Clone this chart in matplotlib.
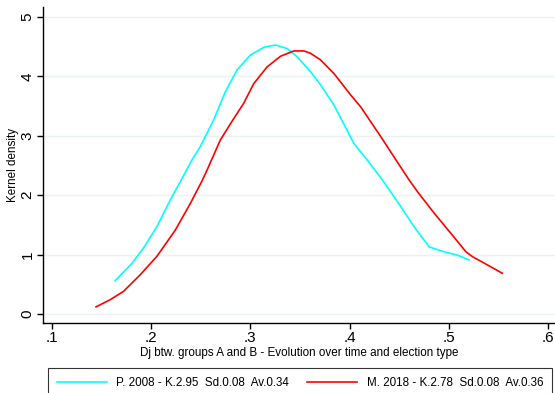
import matplotlib
matplotlib.use("Agg")
import matplotlib.pyplot as plt

# -----------------------------
# Data
# -----------------------------
p2008_x = [0.1636, 0.1805, 0.1922, 0.2057, 0.2192, 0.231, 0.241, 0.2495, 0.263,
           0.2747, 0.2865, 0.300, 0.3135, 0.3253, 0.337, 0.3472, 0.3606, 0.3707,
           0.3842, 0.4044, 0.4179, 0.433, 0.4515, 0.465, 0.4802, 0.4949, 0.5088,
           0.5205]
p2008_y = [0.56, 0.85, 1.11, 1.47, 1.92, 2.28, 2.59, 2.82, 3.27,
           3.74, 4.11, 4.36, 4.49, 4.53, 4.47, 4.33, 4.08, 3.86,
           3.52, 2.87, 2.59, 2.26, 1.81, 1.47, 1.13, 1.05, 0.99,
           0.91]

m2018_x = [0.1444, 0.1586, 0.172, 0.1889, 0.2057, 0.2242, 0.2394, 0.2512, 0.2562,
           0.2697, 0.2832, 0.2933, 0.3034, 0.3168, 0.3303, 0.3438, 0.354, 0.3606,
           0.3707, 0.3842, 0.401, 0.4111, 0.4313, 0.4481, 0.4599, 0.4684, 0.4852,
           0.502, 0.5172, 0.5239, 0.5391, 0.554]
m2018_y = [0.12, 0.24, 0.38, 0.66, 0.97, 1.41, 1.86, 2.24, 2.42,
           2.93, 3.29, 3.55, 3.88, 4.16, 4.34, 4.43, 4.43, 4.39,
           4.28, 4.05, 3.69, 3.49, 2.99, 2.56, 2.26, 2.06, 1.70,
           1.36, 1.05, 0.965, 0.825, 0.685]

x_ticks = [0.1, 0.2, 0.3, 0.4, 0.5, 0.6]
x_tick_labels = [".1", ".2", ".3", ".4", ".5", ".6"]
y_ticks = [0, 1, 2, 3, 4, 5]

label_p = "P. 2008 - K.2.95  Sd.0.08  Av.0.34"
label_m = "M. 2018 - K.2.78  Sd.0.08  Av.0.36"

# -----------------------------
# Plot
# -----------------------------
plt.rcParams["font.family"] = ["Liberation Sans", "DejaVu Sans"]

fig = plt.figure(figsize=(5.55, 3.93), dpi=100)
ax = fig.add_axes([43 / 555, 1 - 323 / 393, 512 / 555, 316 / 393])

ax.plot(p2008_x, p2008_y, color="#00ffff", linewidth=1.2, label=label_p)
ax.plot(m2018_x, m2018_y, color="#ff0000", linewidth=1.2, label=label_m)

ax.set_xlim(0.0909, 0.6071)
ax.set_ylim(-0.152, 5.17)

ax.set_xticks(x_ticks)
ax.set_xticklabels(x_tick_labels, fontsize=11)
ax.set_yticks(y_ticks)
ax.set_yticklabels([str(v) for v in y_ticks], fontsize=11,
                   rotation=90, va="center")

ax.grid(axis="y", color="#eaf2f3", linewidth=1)
ax.set_axisbelow(True)
for side in ["top", "right"]:
    ax.spines[side].set_visible(False)
for side in ["left", "bottom"]:
    ax.spines[side].set_linewidth(1)
ax.tick_params(direction="out", length=4, width=1, pad=2)

ax.set_xlabel("Dj btw. groups A and B - Evolution over time and election type",
              fontsize=8.4, labelpad=1)
ax.set_ylabel("Kernel density", fontsize=8.4, labelpad=1)

leg = fig.legend(loc="upper left", ncol=2, mode="expand",
                 bbox_to_anchor=(48 / 555, -0.03, 504 / 555, 1 - 368 / 393 + 0.03),
                 fontsize=8.4, frameon=True, fancybox=False,
                 edgecolor="black", handlelength=4.3, borderaxespad=0,
                 borderpad=0.75)
leg.get_frame().set_linewidth(0.8)

fig.savefig("out.png", dpi=100)
